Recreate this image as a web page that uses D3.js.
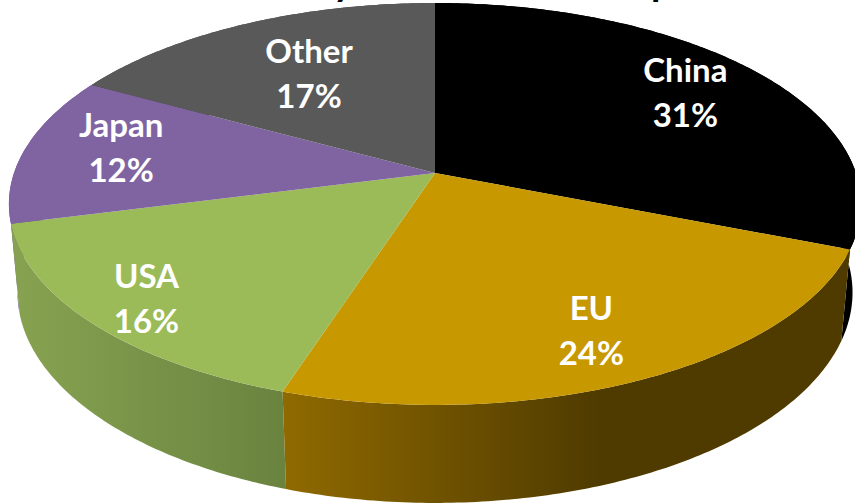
<!DOCTYPE html>
<html>
<head>
<meta charset="utf-8">
<style>
  html, body { margin: 0; padding: 0; background: #fff; overflow: hidden; }
  svg { display: block; }
  text { font-family: Lato, "Open Sans", sans-serif; font-weight: 700; }
</style>
<script src="https://cdn.jsdelivr.net/npm/d3@7/dist/d3.min.js"></script>
</head>
<body>
<script>
// Share of the total per region, clockwise from twelve o'clock.
const regions = ["China", "EU", "USA", "Japan", "Other"];
const shares = [31, 24, 16, 12, 17];
const topColors = ["#000000", "#c89800", "#9bbb59", "#8064a2", "#595959"];
const sideColorsNear = ["#000000", "#906a00", "#6a8440", "#66508a", "#474747"];
const sideColorsFar = ["#000000", "#4f3b00", "#86a250", "#66508a", "#474747"];

// Descenders of the heading, which runs off the top of the page.
const headingGlyphs = [{ text: "y", x: 333 }, { text: "p", x: 651 }];

const width = 855, height = 503;

// Perspective model of the disc: apex position, radii, foreshortening, thickness.
const apex = { x: 435, y: 173 };
const radius = { x: 421, y: 196.2 };
const tilt = 0.154, taper = 0.02, thickness = 89.5;

// Projects a point on the disc (r in 0..1, angle clockwise from the back) to the page.
// level 0 is the top face, level 1 the bottom rim.
function project(r, angle, level) {
  const px = r * Math.sin(angle), py = -r * Math.cos(angle);
  const w = 1 - tilt * py + taper * level;
  return [
    apex.x + radius.x * px / w,
    apex.y + (radius.y * py + thickness * level) / w
  ];
}

const pie = d3.pie().sort(null).value(d => d.share);
const arcs = pie(regions.map((name, i) => ({ name, share: shares[i], i })));

const svg = d3.select("body").append("svg")
  .attr("width", width).attr("height", height)
  .attr("viewBox", [0, 0, width, height]);

// Horizontal shading of each side wall.
const defs = svg.append("defs");
const gradientEnds = { 1: [283, 600], 2: [280, 20] };
regions.forEach((name, i) => {
  const [x1, x2] = gradientEnds[i] || [0, width];
  const g = defs.append("linearGradient")
    .attr("id", "side-" + i)
    .attr("gradientUnits", "userSpaceOnUse")
    .attr("x1", x1).attr("x2", x2).attr("y1", 0).attr("y2", 0);
  g.append("stop").attr("offset", 0).attr("stop-color", sideColorsNear[i]);
  g.append("stop").attr("offset", 1).attr("stop-color", sideColorsFar[i]);
});

const line = d3.line();
const rimAngles = d => {
  const n = Math.max(2, Math.ceil((d.endAngle - d.startAngle) * 80));
  return d3.range(n + 1).map(k => d.startAngle + (d.endAngle - d.startAngle) * k / n);
};

// Side walls, furthest first, so nearer walls overlap them.
const midDepth = d => -Math.cos((d.startAngle + d.endAngle) / 2);
const byDepth = arcs.slice().sort((a, b) => midDepth(a) - midDepth(b));

svg.append("g").selectAll("path").data(byDepth).join("path")
  .attr("fill", d => `url(#side-${d.data.i})`)
  .attr("d", d => {
    const as = rimAngles(d);
    const upper = as.map(a => project(1, a, 0));
    const lower = as.slice().reverse().map(a => project(1, a, 1));
    return line(upper.concat(lower)) + "Z";
  });

// Top faces.
svg.append("g").selectAll("path").data(arcs).join("path")
  .attr("fill", d => topColors[d.data.i])
  .attr("d", d => {
    const rim = rimAngles(d).map(a => project(1, a, 0));
    return line([[apex.x, apex.y]].concat(rim)) + "Z";
  });

// Labels sit at a common radius on each slice's mid-angle, with a small hand nudge.
const labelRadius = 0.76;
const labelNudge = { China: [2, -1], EU: [4, 7.5], USA: [-35, 15], Japan: [-1, -7], Other: [22, 17.5] };
const lineGap = 45;

const labels = svg.append("g").attr("text-anchor", "middle").attr("fill", "#fff")
  .style("font-size", "33px");
arcs.forEach(d => {
  const [x, y] = project(labelRadius, (d.startAngle + d.endAngle) / 2, 0);
  const [dx, dy] = labelNudge[d.data.name];
  labels.append("text").attr("x", x + dx).attr("y", y + dy - 11).text(d.data.name);
  labels.append("text").attr("x", x + dx).attr("y", y + dy - 11 + lineGap).text(d.data.share + "%");
});

// Heading descenders.
svg.append("g").style("font-size", "38px").attr("fill", "#000")
  .selectAll("text").data(headingGlyphs).join("text")
  .attr("x", d => d.x).attr("y", -4).text(d => d.text);
</script>
</body>
</html>
